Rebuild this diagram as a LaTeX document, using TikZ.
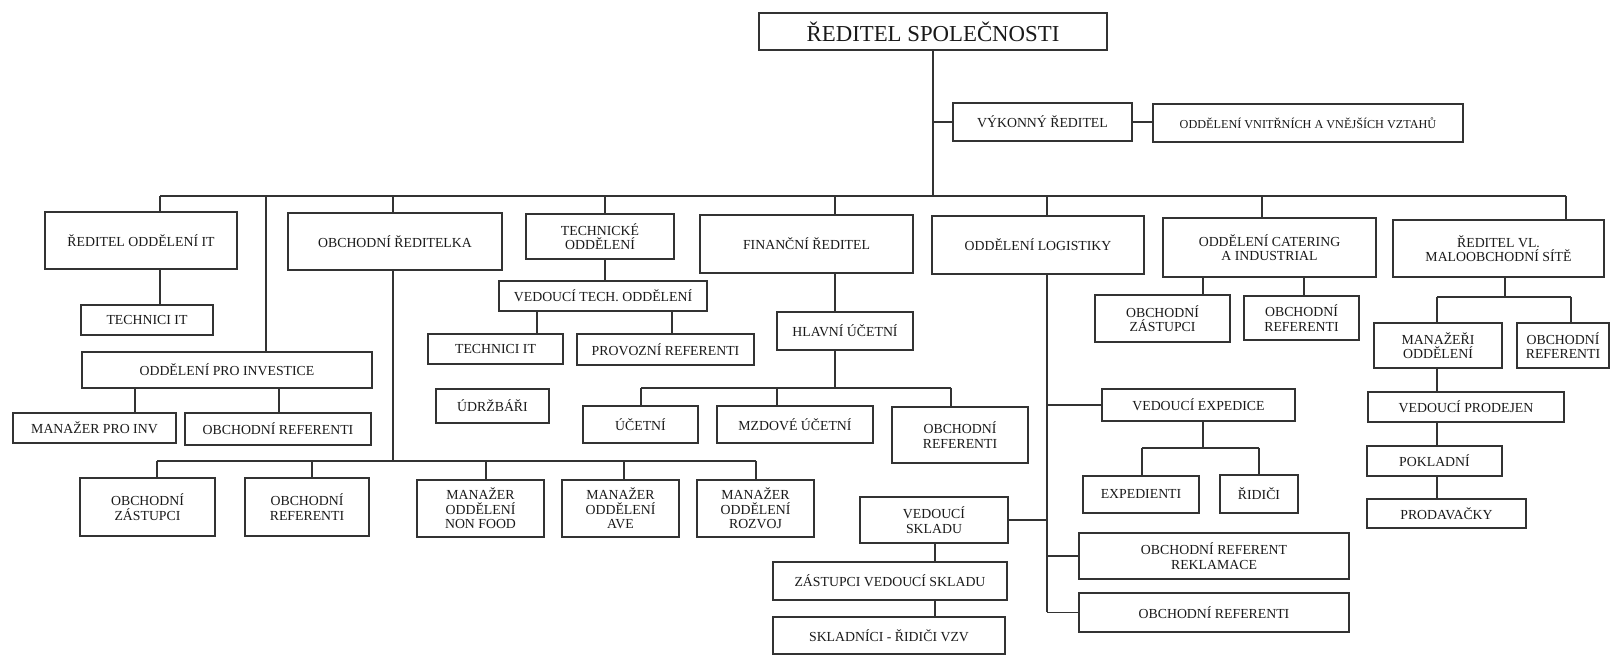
\documentclass[tikz,border=0pt]{standalone}
\usepackage{fontspec}
\setmainfont{Liberation Serif}
\begin{document}
\begin{tikzpicture}[x=0.5pt,y=-0.5pt,
  bx/.style={draw=black!80, line width=0.8pt, inner sep=0pt, align=center,
    font=\fontsize{6.9}{7.3}\selectfont, text=black!90},
  wh/.style 2 args={minimum width=#1*0.5pt, minimum height=#2*0.5pt},
  ln/.style={draw=black!80, line width=0.8pt}]
\useasboundingbox (0,0) rectangle (1614,656);
\fill[white] (0,0) rectangle (1614,656);

% ---------- nodes ----------
\node[bx, wh={348}{37}, font=\fontsize{11.4}{12}\selectfont] (ceo) at (933,31.5) {ŘEDITEL SPOLEČNOSTI};
\node[bx, wh={179}{38}] (vyk) at (1042.5,122) {VÝKONNÝ ŘEDITEL};
\node[bx, wh={310}{38}, font=\fontsize{6.1}{7}\selectfont] (vztahy) at (1308,123) {ODDĚLENÍ VNITŘNÍCH A VNĚJŠÍCH VZTAHŮ};

\node[bx, wh={192}{57}] (itdir) at (141,240.5) {ŘEDITEL ODDĚLENÍ IT};
\node[bx, wh={132}{30}] (techit1) at (147,320) {TECHNICI IT};
\node[bx, wh={290}{36}] (inv) at (227,370) {ODDĚLENÍ PRO INVESTICE};
\node[bx, wh={163}{30}] (manInv) at (94.5,428) {MANAŽER PRO INV};
\node[bx, wh={186}{32}] (refInv) at (278,429) {OBCHODNÍ REFERENTI};

\node[bx, wh={214}{57}] (obchRed) at (395,241.5) {OBCHODNÍ ŘEDITELKA};
\node[bx, wh={135}{58}] (zast1) at (147.5,507) {OBCHODNÍ\\ZÁSTUPCI};
\node[bx, wh={124}{58}] (ref1) at (307,507) {OBCHODNÍ\\REFERENTI};
\node[bx, wh={127}{57}] (nonfood) at (480.5,508.5) {MANAŽER\\ODDĚLENÍ\\NON FOOD};
\node[bx, wh={117}{57}] (ave) at (620.5,508.5) {MANAŽER\\ODDĚLENÍ\\AVE};
\node[bx, wh={117}{57}] (rozvoj) at (755.5,508.5) {MANAŽER\\ODDĚLENÍ\\ROZVOJ};

\node[bx, wh={148}{45}] (techOdd) at (600,236.5) {TECHNICKÉ\\ODDĚLENÍ};
\node[bx, wh={208}{30}] (vedTech) at (603,296) {VEDOUCÍ TECH. ODDĚLENÍ};
\node[bx, wh={135}{30}] (techit2) at (495.5,349) {TECHNICI IT};
\node[bx, wh={177}{31}] (provoz) at (665.5,349.5) {PROVOZNÍ REFERENTI};
\node[bx, wh={113}{34}] (udrz) at (492.5,406) {ÚDRŽBÁŘI};

\node[bx, wh={213}{58}] (fin) at (806.5,244) {FINANČNÍ ŘEDITEL};
\node[bx, wh={136}{38}] (hlavni) at (845,331) {HLAVNÍ ÚČETNÍ};
\node[bx, wh={115}{37}] (ucetni) at (640.5,424.5) {ÚČETNÍ};
\node[bx, wh={156}{37}] (mzdove) at (795,424.5) {MZDOVÉ ÚČETNÍ};
\node[bx, wh={136}{56}] (refFin) at (960,435) {OBCHODNÍ\\REFERENTI};

\node[bx, wh={212}{58}] (log) at (1038,245) {ODDĚLENÍ LOGISTIKY};
\node[bx, wh={193}{32}] (vedExp) at (1198.5,405) {VEDOUCÍ EXPEDICE};
\node[bx, wh={116}{37}] (expedienti) at (1141,494.5) {EXPEDIENTI};
\node[bx, wh={78}{38}] (ridici) at (1259,494) {ŘIDIČI};
\node[bx, wh={270}{46}] (reklamace) at (1214,556) {OBCHODNÍ REFERENT\\REKLAMACE};
\node[bx, wh={270}{39}] (refLog) at (1214,612.5) {OBCHODNÍ REFERENTI};
\node[bx, wh={148}{46}] (vedSklad) at (934,520) {VEDOUCÍ\\SKLADU};
\node[bx, wh={234}{38}] (zastSklad) at (890,581) {ZÁSTUPCI VEDOUCÍ SKLADU};
\node[bx, wh={232}{37}] (skladnici) at (889,635.5) {SKLADNÍCI - ŘIDIČI VZV};

\node[bx, wh={213}{59}] (catering) at (1269.5,247.5) {ODDĚLENÍ CATERING\\A INDUSTRIAL};
\node[bx, wh={135}{47}] (zastCat) at (1162.5,318.5) {OBCHODNÍ\\ZÁSTUPCI};
\node[bx, wh={115}{44}] (refCat) at (1301.5,318) {OBCHODNÍ\\REFERENTI};

\node[bx, wh={211}{57}] (vl) at (1498.5,248.5) {ŘEDITEL VL.\\MALOOBCHODNÍ SÍTĚ};
\node[bx, wh={128}{45}] (manazeri) at (1438,345.5) {MANAŽEŘI\\ODDĚLENÍ};
\node[bx, wh={92}{45}] (refVl) at (1563,345.5) {OBCHODNÍ\\REFERENTI};
\node[bx, wh={196}{30}] (vedProd) at (1466,407) {VEDOUCÍ PRODEJEN};
\node[bx, wh={135}{30}] (pokladni) at (1434.5,461) {POKLADNÍ};
\node[bx, wh={159}{29}] (prodavacky) at (1446.5,513.5) {PRODAVAČKY};

% ---------- helper coordinates ----------
\coordinate (busY) at (0,196);
\coordinate (lbusY) at (0,461);
\coordinate (finbusY) at (0,388);
\coordinate (expbusY) at (0,448);
\coordinate (vlbusY) at (0,297);
\coordinate (xIT) at (160,0);
\coordinate (xInv) at (266,0);
\coordinate (xInvA) at (135,0);
\coordinate (xInvB) at (279,0);
\coordinate (xObR) at (393,0);
\coordinate (xL1) at (157,0);
\coordinate (xL2) at (312,0);
\coordinate (xL3) at (486,0);
\coordinate (xL4) at (624,0);
\coordinate (xL5) at (756,0);
\coordinate (xTO) at (605,0);
\coordinate (xT1) at (537,0);
\coordinate (xT2) at (672,0);
\coordinate (xFin) at (835,0);
\coordinate (xF1) at (641,0);
\coordinate (xF2) at (777,0);
\coordinate (xF3) at (951,0);
\coordinate (xLog) at (1047,0);
\coordinate (xE0) at (1203,0);
\coordinate (xE1) at (1142,0);
\coordinate (xE2) at (1259,0);
\coordinate (xSkl) at (935,0);
\coordinate (xCat) at (1262,0);
\coordinate (xCA) at (1203,0);
\coordinate (xCB) at (1304,0);
\coordinate (xVL) at (1566,0);
\coordinate (xV0) at (1505,0);
\coordinate (xV1) at (1437,0);
\coordinate (xV2) at (1571,0);

% ---------- connectors ----------
\draw[ln] (ceo.south) -- (ceo.south |- busY);
\draw[ln] (vyk.west) -- (vyk.west -| ceo.south);
\draw[ln] (vyk.east) -- (vyk.east -| vztahy.west);
\draw[ln] (xIT |- busY) -- (xVL |- busY);
\foreach \x/\n in {xIT/itdir, xInv/inv, xObR/obchRed, xTO/techOdd, xFin/fin, xLog/log, xCat/catering, xVL/vl}
  \draw[ln] (\x |- busY) -- (\x |- \n.north);

\draw[ln] (xIT |- itdir.south) -- (xIT |- techit1.north);
\draw[ln] (xInvA |- inv.south) -- (xInvA |- manInv.north);
\draw[ln] (xInvB |- inv.south) -- (xInvB |- refInv.north);

\draw[ln] (xObR |- obchRed.south) -- (xObR |- lbusY);
\draw[ln] (xL1 |- lbusY) -- (xL5 |- lbusY);
\foreach \x/\n in {xL1/zast1, xL2/ref1, xL3/nonfood, xL4/ave, xL5/rozvoj}
  \draw[ln] (\x |- lbusY) -- (\x |- \n.north);

\draw[ln] (xTO |- techOdd.south) -- (xTO |- vedTech.north);
\draw[ln] (xT1 |- vedTech.south) -- (xT1 |- techit2.north);
\draw[ln] (xT2 |- vedTech.south) -- (xT2 |- provoz.north);

\draw[ln] (xFin |- fin.south) -- (xFin |- hlavni.north);
\draw[ln] (xFin |- hlavni.south) -- (xFin |- finbusY);
\draw[ln] (xF1 |- finbusY) -- (xF3 |- finbusY);
\foreach \x/\n in {xF1/ucetni, xF2/mzdove, xF3/refFin}
  \draw[ln] (\x |- finbusY) -- (\x |- \n.north);

\draw[ln] (xLog |- log.south) -- (xLog |- refLog.west);
\draw[ln] (vedExp.west) -- (vedExp.west -| xLog);
\draw[ln] (vedSklad.east) -- (vedSklad.east -| xLog);
\draw[ln] (reklamace.west) -- (reklamace.west -| xLog);
\draw[ln] (refLog.west) -- (refLog.west -| xLog);
\draw[ln] (xE0 |- vedExp.south) -- (xE0 |- expbusY);
\draw[ln] (xE1 |- expbusY) -- (xE2 |- expbusY);
\draw[ln] (xE1 |- expbusY) -- (xE1 |- expedienti.north);
\draw[ln] (xE2 |- expbusY) -- (xE2 |- ridici.north);
\draw[ln] (xSkl |- vedSklad.south) -- (xSkl |- zastSklad.north);
\draw[ln] (xSkl |- zastSklad.south) -- (xSkl |- skladnici.north);

\draw[ln] (xCA |- catering.south) -- (xCA |- zastCat.north);
\draw[ln] (xCB |- catering.south) -- (xCB |- refCat.north);

\draw[ln] (xV0 |- vl.south) -- (xV0 |- vlbusY);
\draw[ln] (xV1 |- vlbusY) -- (xV2 |- vlbusY);
\draw[ln] (xV1 |- vlbusY) -- (xV1 |- manazeri.north);
\draw[ln] (xV2 |- vlbusY) -- (xV2 |- refVl.north);
\draw[ln] (xV1 |- manazeri.south) -- (xV1 |- vedProd.north);
\draw[ln] (xV1 |- vedProd.south) -- (xV1 |- pokladni.north);
\draw[ln] (xV1 |- pokladni.south) -- (xV1 |- prodavacky.north);
\end{tikzpicture}
\end{document}
